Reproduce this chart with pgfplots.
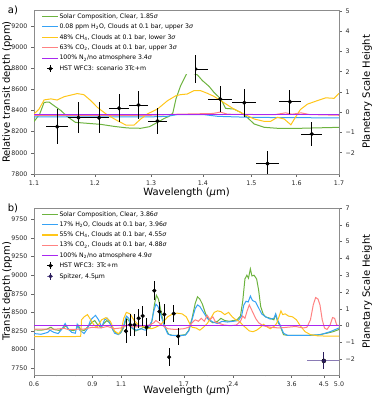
\documentclass[border=0pt]{standalone}
\usepackage{pgfplots}
\pgfplotsset{compat=1.18}
\usepackage{pgfplotstable}
\usepackage{fontspec}
\setmainfont{DejaVu Sans}

\definecolor{cgreen}{HTML}{6DB33F}
\definecolor{cblue}{HTML}{36A2F5}
\definecolor{cyellow}{HTML}{FFC61A}
\definecolor{cred}{HTML}{FF8282}
\definecolor{cpurple}{HTML}{A828F0}
\definecolor{spz}{HTML}{2B1D5C}
\definecolor{spzx}{HTML}{8A7BB5}

% HST WFC3 spectrum (ppm)
\pgfplotstableread{
x y ex ey
1.137 8247 0.018 164
1.172 8332 0.018 147
1.207 8332 0.018 148
1.242 8421 0.018 131
1.277 8452 0.018 134
1.312 8301 0.018 123
1.385 8792 0.025 128
1.435 8509 0.024 126
1.485 8474 0.025 134
1.535 7898 0.025 117
1.585 8483 0.025 113
1.635 8178 0.025 115
}\hst

\pgfplotsset{
  panel/.style={
    scale only axis, width=305pt,
    tick align=outside, major tick length=3pt,
    axis line style={black!45}, tick style={black!60, line width=0.5pt},
    tick label style={font=\fontsize{6.3}{7}\selectfont, text=black!85},
    label style={font=\fontsize{8.3}{10}\selectfont},
    every axis y label/.style={at={(axis description cs:0,0.5)}, xshift=-27pt, rotate=90, anchor=center},
    every axis x label/.style={at={(axis description cs:0.5,0)}, yshift=-18.5pt, anchor=center},
    /pgf/number format/assume math mode=true,
    /pgf/number format/1000 sep={},
    legend image code/.code={\draw[##1, line width=1.1pt] (0pt,0pt) -- (16pt,0pt);},
    legend style={draw=none, fill=white, text opacity=1,
      at={(0.022,0.99)}, anchor=north west, inner sep=1pt,
      font=\fontsize{6.2}{7}\selectfont, row sep=3pt,
      nodes={inner sep=0.5pt, text height=5pt, text depth=1.4pt}},
    legend cell align=left,
  },
  twin/.style={
    scale only axis, width=305pt,
    hide x axis, axis y line*=right, tick align=outside, major tick length=3pt,
    axis line style={black!45}, tick style={black!60, line width=0.5pt},
    tick label style={font=\fontsize{6.3}{7}\selectfont, text=black!85},
    label style={font=\fontsize{8.3}{10}\selectfont},
    every axis y label/.style={at={(axis description cs:1,0.5)}, xshift=28pt, rotate=90, anchor=center},
  },
  hststyle/.style={only marks, mark=*, mark size=1.9pt, black,
    legend image code/.code={\draw[black,line width=0.9pt] (8pt,-3.4pt)--(8pt,3.4pt) (5pt,0pt)--(11pt,0pt); \fill[black] (8pt,0pt) circle (1.8pt);},
    error bars/.cd, x dir=both, x explicit, y dir=both, y explicit,
    error bar style={line width=0.9pt, black}, error mark=none},
  hstb/.style={only marks, mark=*, mark size=1.9pt, black,
    legend image code/.code={\draw[black,line width=0.9pt] (8pt,-3.4pt)--(8pt,3.4pt) (5pt,0pt)--(11pt,0pt); \fill[black] (8pt,0pt) circle (1.8pt);},
    error bars/.cd, y dir=both, y explicit,
    error bar style={line width=0.9pt, black}, error mark=none},
}

\begin{document}
\begin{tikzpicture}
\useasboundingbox (0,0) rectangle (374pt,398pt);

% ---------- panel a ----------
\begin{axis}[panel, xmode=log, at={(34pt,224pt)}, anchor=south west, height=164pt,
  xmin=1.1, xmax=1.7, ymin=7800, ymax=9350,
  xtick={1.1,1.2,1.3,1.4,1.5,1.6,1.7}, xticklabels={1.1,1.2,1.3,1.4,1.5,1.6,1.7},
  minor xtick={}, ytick={7800,8000,...,9200}, ytick pos=left, xtick pos=bottom,
  xlabel={Wavelength (\textit{μ}m)}, ylabel={Relative transit depth (ppm)}]
\addplot[cgreen, line width=1pt] coordinates {
(1.100,8295) (1.109,8367) (1.116,8477) (1.124,8480) (1.132,8445) (1.143,8400)
(1.153,8345) (1.167,8288) (1.187,8279) (1.210,8269) (1.233,8250) (1.257,8235)
(1.281,8232) (1.297,8247) (1.312,8288) (1.325,8326) (1.334,8345) (1.341,8376)
(1.347,8509) (1.356,8635) (1.369,8760) (1.379,8755) (1.389,8736) (1.399,8682)
(1.412,8629) (1.422,8572) (1.436,8509) (1.446,8420) (1.463,8414) (1.477,8383)
(1.491,8336) (1.506,8273) (1.528,8241) (1.557,8232) (1.609,8232) (1.700,8241)};
\addlegendentry{Solar Composition, Clear, 1.85\textit{σ}}
\addplot[cblue, line width=1pt] coordinates {
(1.10,8340) (1.30,8340) (1.33,8345) (1.35,8362) (1.40,8362) (1.43,8345)
(1.50,8335) (1.70,8330)};
\addlegendentry{0.08 ppm H\textsubscript{2}O, Clouds at 0.1 bar, upper 3\textit{σ}}
\addplot[cyellow, line width=1pt] coordinates {
(1.100,8367) (1.108,8414) (1.116,8500) (1.127,8510) (1.137,8499) (1.148,8530)
(1.170,8560) (1.181,8550) (1.193,8493) (1.204,8430) (1.221,8360) (1.239,8304)
(1.254,8263) (1.269,8263) (1.281,8320) (1.293,8367) (1.312,8414) (1.331,8493)
(1.347,8540) (1.356,8550) (1.369,8556) (1.382,8588) (1.395,8588) (1.409,8562)
(1.422,8534) (1.436,8493) (1.463,8414) (1.484,8367) (1.506,8320) (1.527,8298)
(1.542,8298) (1.557,8336) (1.572,8320) (1.587,8265) (1.598,8340) (1.609,8410)
(1.625,8460) (1.648,8493) (1.668,8520) (1.688,8515) (1.700,8562)};
\addlegendentry{48\% CH\textsubscript{4}, Clouds at 0.1 bar, lower 3\textit{σ}}
\addplot[cred, line width=1pt] coordinates {
(1.10,8355) (1.30,8355) (1.35,8365) (1.40,8370) (1.42,8372) (1.435,8385)
(1.45,8365) (1.55,8360) (1.575,8378) (1.59,8365) (1.61,8378) (1.63,8362) (1.70,8355)};
\addlegendentry{63\% CO\textsubscript{2}, Clouds at 0.1 bar, upper 3\textit{σ}}
\addplot[cpurple, line width=1.2pt] coordinates {(1.1,8366) (1.7,8366)};
\addlegendentry{100\% N\textsubscript{2}/no atmosphere 3.4\textit{σ}}
\addplot[hststyle] table[x=x, y=y, x error=ex, y error=ey] {\hst};
\addlegendentry{HST WFC3: scenario 3Tc+m}
\end{axis}
\begin{axis}[twin, xmode=log, at={(34pt,224pt)}, anchor=south west, height=164pt,
  xmin=1.1, xmax=1.7, ymin=-3.05, ymax=5.05,
  ytick={-2,...,5}, yticklabels={−2,−1,0,1,2,3,4,5},
  ylabel={Planetary Scale Height}]
\end{axis}

% ---------- panel b ----------
\begin{axis}[panel, xmode=log, at={(34pt,23pt)}, anchor=south west, height=167pt,
  xmin=0.6, xmax=5.0, ymin=7657, ymax=9905,
  xtick={0.6,0.9,1.1,1.7,2.4,3.6,4.5,5.0}, xticklabels={0.6,0.9,1.1,1.7,2.4,3.6,4.5,5.0},
  minor xtick={0.7,0.8,1,2,3,4}, minor tick length=1.5pt,
  ytick={7750,8000,...,9750}, ytick pos=left, xtick pos=bottom,
  legend style={row sep=2.8pt},
  x label style={yshift=2.5pt},
  xlabel={Wavelength (\textit{μ}m)}, ylabel={Transit depth (ppm)}]
\addplot[cgreen, line width=1pt] coordinates {
(0.600,8265) (0.630,8260) (0.655,8272) (0.675,8300) (0.690,8268) (0.715,8258)
(0.735,8290) (0.750,8320) (0.765,8265) (0.790,8255) (0.805,8270) (0.815,8330)
(0.830,8268) (0.850,8255) (0.870,8300) (0.895,8360) (0.915,8390) (0.935,8330)
(0.955,8300) (0.975,8350) (0.995,8390) (1.015,8360) (1.040,8260) (1.070,8215)
(1.095,8220) (1.120,8300) (1.140,8420) (1.160,8390) (1.185,8290) (1.215,8250)
(1.250,8270) (1.285,8300) (1.315,8275) (1.345,8300) (1.365,8400) (1.385,8600)
(1.405,8730) (1.425,8680) (1.445,8550) (1.470,8400) (1.500,8280) (1.530,8205)
(1.570,8190) (1.650,8190) (1.720,8200) (1.760,8260) (1.800,8420) (1.840,8620)
(1.870,8710) (1.900,8680) (1.935,8610) (1.975,8490) (2.020,8400) (2.080,8360)
(2.150,8380) (2.200,8420) (2.260,8390) (2.330,8380) (2.400,8390) (2.460,8400)
(2.520,8450) (2.560,8650) (2.600,8950) (2.635,9000) (2.665,8960) (2.700,9085)
(2.730,8990) (2.770,9000) (2.820,8950) (2.860,8800) (2.900,8580) (2.950,8480)
(3.000,8440) (3.100,8420) (3.180,8400) (3.220,8470) (3.260,8380) (3.320,8320)
(3.400,8200) (3.500,8190) (4.000,8190) (4.300,8195) (4.600,8220) (4.800,8240)
(5.000,8270)};
\addlegendentry{Solar Composition, Clear, 3.86\textit{σ}}
\addplot[cblue, line width=1pt] coordinates {
(0.600,8215) (0.630,8205) (0.660,8230) (0.670,8260) (0.690,8230) (0.710,8215)
(0.730,8280) (0.745,8350) (0.760,8280) (0.780,8230) (0.800,8220) (0.810,8340)
(0.825,8260) (0.850,8215) (0.870,8280) (0.890,8400) (0.920,8460) (0.940,8400)
(0.960,8300) (0.980,8400) (1.000,8420) (1.020,8340) (1.050,8220) (1.080,8200)
(1.100,8240) (1.120,8330) (1.140,8450) (1.160,8420) (1.180,8300) (1.220,8260)
(1.260,8280) (1.300,8260) (1.330,8300) (1.360,8380) (1.380,8520) (1.400,8610)
(1.420,8580) (1.450,8460) (1.480,8330) (1.520,8210) (1.560,8190) (1.650,8185)
(1.720,8195) (1.760,8250) (1.800,8400) (1.840,8550) (1.870,8600) (1.900,8580)
(1.950,8500) (2.000,8420) (2.080,8370) (2.150,8350) (2.220,8380) (2.300,8370)
(2.400,8380) (2.480,8390) (2.540,8450) (2.580,8600) (2.620,8650) (2.660,8640)
(2.700,8720) (2.740,8660) (2.800,8640) (2.860,8560) (2.920,8480) (3.000,8440)
(3.100,8410) (3.180,8420) (3.220,8480) (3.260,8400) (3.320,8330) (3.400,8220)
(3.500,8190) (4.000,8190) (4.400,8200) (4.700,8240) (5.000,8290)};
\addlegendentry{17\% H\textsubscript{2}O, Clouds at 0.1 bar, 3.96\textit{σ}}
\addplot[cyellow, line width=1pt] coordinates {
(0.600,8175) (0.700,8175) (0.800,8175) (0.830,8178) (0.835,8400) (0.850,8440)
(0.870,8470) (0.890,8400) (0.910,8330) (0.930,8300) (0.960,8400) (0.990,8430)
(1.020,8380) (1.050,8250) (1.080,8210) (1.100,8260) (1.120,8420) (1.140,8500)
(1.170,8480) (1.200,8400) (1.240,8330) (1.280,8310) (1.320,8290) (1.360,8280)
(1.400,8300) (1.440,8330) (1.480,8380) (1.520,8440) (1.560,8470) (1.620,8490)
(1.680,8480) (1.730,8440) (1.770,8350) (1.800,8300) (1.850,8290) (1.900,8260)
(1.950,8300) (2.000,8350) (2.050,8420) (2.100,8500) (2.150,8520) (2.200,8510)
(2.260,8470) (2.320,8500) (2.380,8440) (2.440,8400) (2.500,8380) (2.560,8330)
(2.620,8290) (2.680,8250) (2.750,8240) (2.820,8260) (2.900,8300) (2.960,8340)
(3.020,8310) (3.100,8280) (3.180,8310) (3.240,8350) (3.300,8450) (3.340,8520)
(3.380,8470) (3.440,8480) (3.520,8450) (3.620,8440) (3.720,8400) (3.820,8320)
(3.950,8240) (4.100,8200) (4.300,8185) (4.600,8180) (5.000,8180)};
\addlegendentry{55\% CH\textsubscript{4}, Clouds at 0.1 bar, 4.55\textit{σ}}
\addplot[cred, line width=1pt] coordinates {
(0.600,8275) (0.700,8275) (0.740,8285) (0.760,8270) (0.850,8275) (0.900,8300)
(0.950,8290) (1.000,8310) (1.050,8280) (1.100,8290) (1.150,8330) (1.200,8300)
(1.280,8320) (1.340,8330) (1.380,8360) (1.400,8390) (1.430,8360) (1.470,8320)
(1.520,8280) (1.600,8270) (1.700,8280) (1.760,8300) (1.800,8360) (1.840,8400)
(1.880,8380) (1.920,8420) (1.960,8380) (2.000,8460) (2.040,8400) (2.080,8440)
(2.120,8370) (2.180,8350) (2.250,8330) (2.350,8320) (2.450,8330) (2.520,8380)
(2.560,8450) (2.600,8420) (2.640,8520) (2.680,8600) (2.720,8540) (2.760,8480)
(2.800,8420) (2.860,8360) (2.950,8320) (3.100,8300) (3.300,8290) (3.500,8300)
(3.700,8310) (3.900,8290) (4.000,8300) (4.100,8400) (4.180,8600) (4.250,8700)
(4.320,8680) (4.380,8600) (4.450,8400) (4.520,8290) (4.600,8270) (4.700,8330)
(4.780,8430) (4.850,8420) (4.920,8330) (5.000,8320)};
\addlegendentry{13\% CO\textsubscript{2}, Clouds at 0.1 bar, 4.88\textit{σ}}
\addplot[cpurple, line width=1.2pt] coordinates {(0.6,8325) (5.0,8325)};
\addlegendentry{100\% N\textsubscript{2}/no atmosphere 4.9\textit{σ}}
\addplot[hstb] table[x=x, y=y, y error=ey] {\hst};
\addlegendentry{HST WFC3: 3Tc+m}
\addplot[only marks, mark=none, forget plot,
  error bars/.cd, x dir=both, x explicit, error bar style={line width=0.9pt, spzx}, error mark=none]
  coordinates {(4.5,7847) +- (0.5,0)};
\addplot[only marks, mark=*, mark size=1.9pt, spz,
  legend image code/.code={\draw[spz,line width=0.9pt] (8pt,-3.4pt)--(8pt,3.4pt); \draw[spzx,line width=0.9pt] (5pt,0pt)--(11pt,0pt); \fill[spz] (8pt,0pt) circle (1.8pt);},
  error bars/.cd, y dir=both, y explicit, error bar style={line width=0.9pt, spz}, error mark=none]
  coordinates {(4.5,7847) +- (0,115)};
\addlegendentry{Spitzer, 4.5µm}
\end{axis}
\begin{axis}[twin, xmode=log, at={(34pt,23pt)}, anchor=south west, height=167pt,
  xmin=0.6, xmax=5.0, ymin=-2.94, ymax=7.0,
  ytick={-2,...,7}, yticklabels={−2,−1,0,1,2,3,4,5,6,7},
  ylabel={Planetary Scale Height}]
\end{axis}

\node[font=\fontsize{10}{12}\selectfont] at (13pt,388pt) {a)};
\node[font=\fontsize{10}{12}\selectfont] at (13pt,190pt) {b)};
\end{tikzpicture}
\end{document}
